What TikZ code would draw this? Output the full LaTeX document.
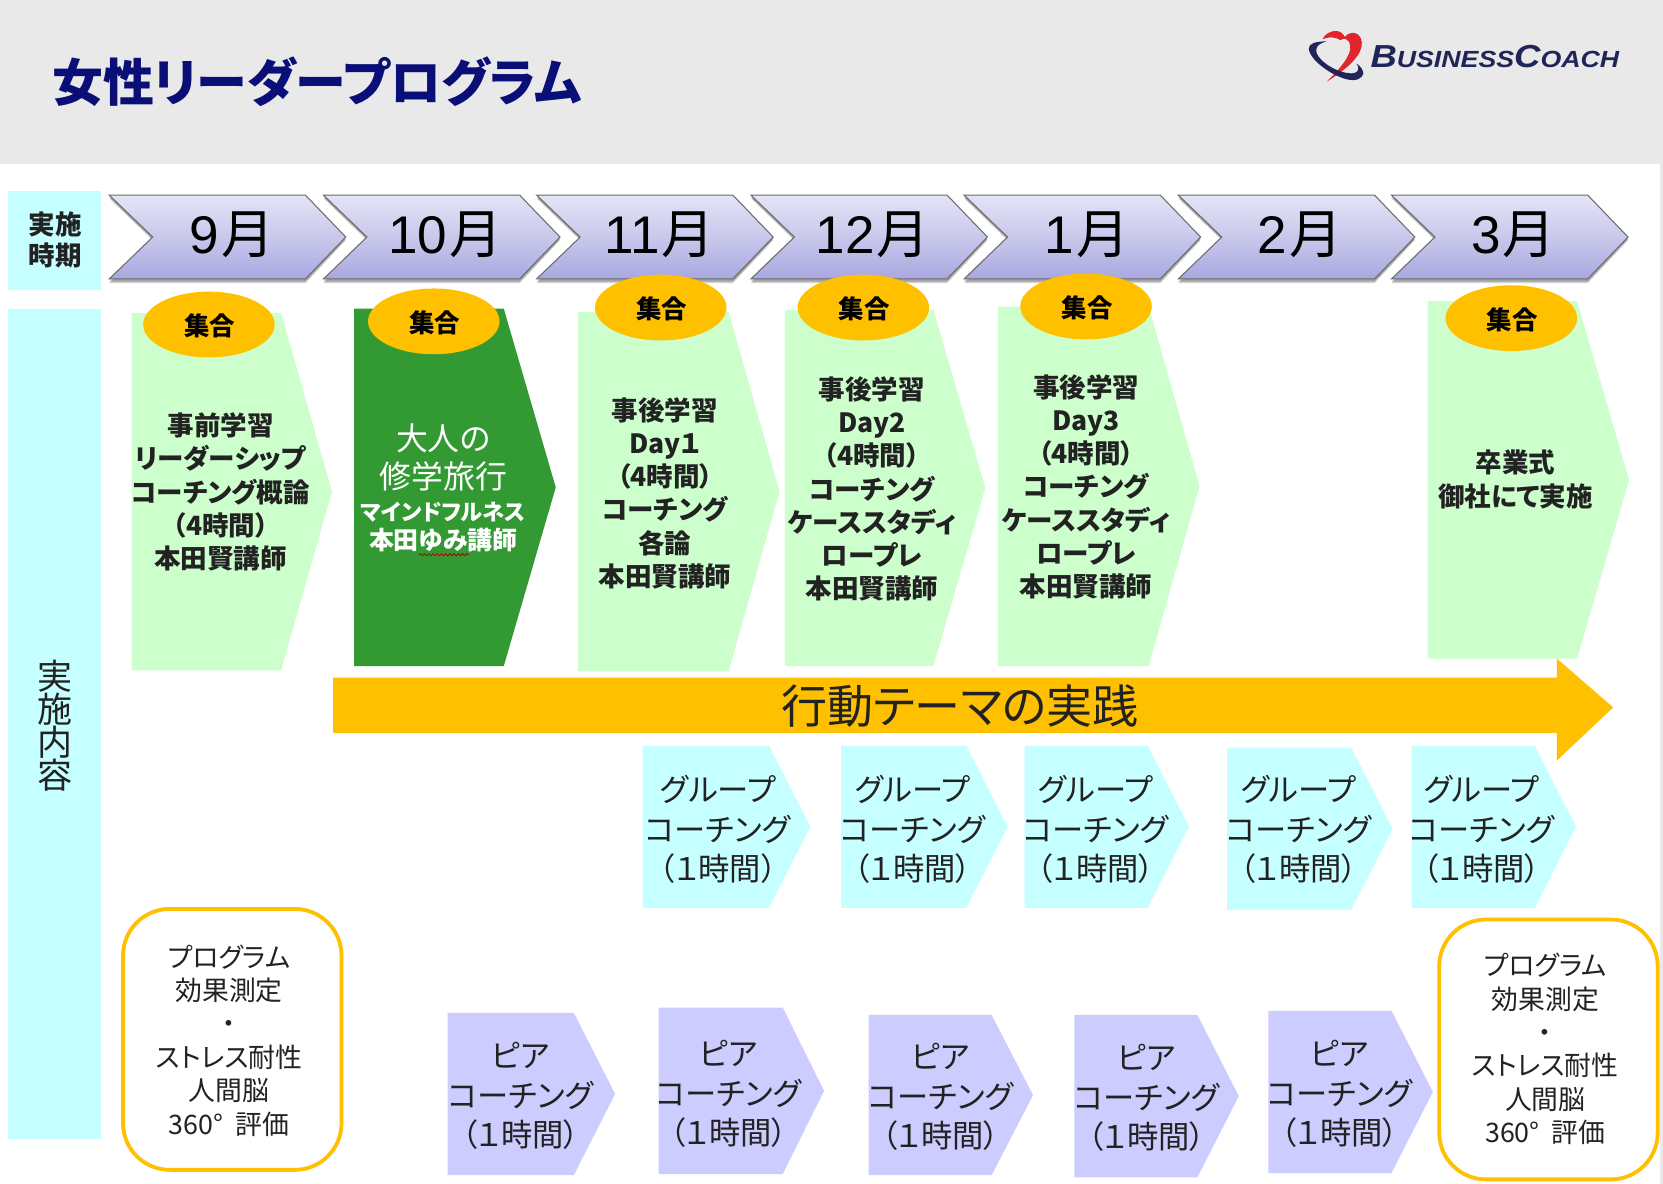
\documentclass[tikz,border=0pt]{standalone}
\usepackage{fontspec}
\usetikzlibrary{decorations.pathmorphing,shapes.geometric}
\setmainfont[RawFeature={+palt}]{Noto Sans CJK JP}
\newfontfamily\latf{Liberation Sans}
\definecolor{hdr}{HTML}{E9E9E9}
\definecolor{cyanb}{HTML}{C6FFFF}
\definecolor{navyt}{HTML}{0A0F78}
\definecolor{lgreen}{HTML}{CCFFCC}
\definecolor{dgreen}{HTML}{339933}
\definecolor{orng}{HTML}{FFC000}
\definecolor{lilac}{HTML}{CCCCFF}
\definecolor{logon}{HTML}{1F2558}
\definecolor{logor}{HTML}{E0262B}
\definecolor{txt}{HTML}{222222}
\definecolor{chevt}{HTML}{E4E4F6}
\definecolor{chevm}{HTML}{C8C8EC}
\definecolor{chevb}{HTML}{A8A8E0}
\tikzset{
  txtn/.style={inner sep=0pt,align=center,text=txt},
  blockt/.style={txtn,font=\fontsize{25}{31.4}\selectfont\bfseries},
  lightt/.style={txtn,font=\fontsize{29.5}{37.2}\selectfont},
  evalt/.style={txtn,font=\fontsize{25.3}{31.5}\selectfont},
  montht/.style={txtn,text=black,font=\fontsize{50}{50}\selectfont},
  gathert/.style={txtn,text=black,font=\fontsize{24}{28}\selectfont\bfseries},
  greenp/.style={fill=lgreen},
  darkp/.style={fill=dgreen},
  cyanp/.style={fill=cyanb},
  lilacp/.style={fill=lilac},
  gatherl/.style={fill=orng,ellipse,minimum width=124pt,minimum height=62pt,inner sep=0pt},
  evalbox/.style={draw=orng,line width=3.6pt,fill=white,rounded corners=44pt},
}
\newcommand{\pent}[6]{\fill[#1] (#2,#3)--(#6,#3)--(#4,{(#3+#5)/2})--(#6,#5)--(#2,#5)--cycle;}
\newcommand{\chev}[1]{%
  \fill[black,opacity=.18] ({#1},187)--({#1+185},187)--({#1+223},226.5)--({#1+185},267)--({#1},267)--({#1+41},226.5)--cycle;
  \fill[black,opacity=.22] ({#1},186)--({#1+185},186)--({#1+223},225.5)--({#1+185},265.5)--({#1},265.5)--({#1+41},225.5)--cycle;
  \draw[draw=gray!85!black,line width=1pt,top color=chevt,bottom color=chevb,middle color=chevm]
    ({#1},184)--({#1+185},184)--({#1+223},223.5)--({#1+185},263)--({#1},263)--({#1+41},223.5)--cycle;}
\begin{document}
\begin{tikzpicture}[x=1pt,y=-1pt]
\useasboundingbox (0,0) rectangle (1568,1116);
\fill[hdr] (0,0) rectangle (1568,1116);
\fill[white] (0,155) rectangle (1565,1116);
% title
\node[txtn,text=navyt,anchor=west,font=\fontsize{48}{54}\selectfont\bfseries] (title) at (49,77) {女性リーダープログラム};
% logo
\fill[logor] (1247,37) .. controls (1250,30) and (1260,27) .. (1265,31) .. controls (1267,33) and (1268,34) .. (1268,35) .. controls (1272,29) and (1283,29) .. (1284,40) .. controls (1285,52) and (1270,65) .. (1251,77) .. controls (1262,66) and (1275,52) .. (1273,43) .. controls (1272,36) and (1266,35) .. (1264,38) .. controls (1258,34) and (1252,35) .. (1247,37) -- cycle;
\fill[logon] (1251,39) .. controls (1240,39) and (1234,41) .. (1234,46) .. controls (1235,58) and (1262,76) .. (1276,75.5) .. controls (1283,75.5) and (1287,70) .. (1285,67) .. controls (1284,64) and (1281,61) .. (1279,60) .. controls (1283,66) and (1280,70) .. (1272,69) .. controls (1258,68) and (1240,55) .. (1241,47) .. controls (1241,43) and (1246,40) .. (1251,39) -- cycle;
\node[inner sep=0pt,anchor=west,text=logon,font=\latf\bfseries\itshape] (logo) at (1292,53) {\scalebox{1.146}[1]{\fontsize{30}{30}\selectfont B\fontsize{22}{22}\selectfont USINESS\fontsize{30}{30}\selectfont C\fontsize{22}{22}\selectfont OACH}};
% side bars
\fill[cyanb] (8,180) rectangle (95,273);
\fill[cyanb] (8,291) rectangle (95,1074);
\node[txtn,font=\fontsize{25}{29.5}\selectfont\bfseries] (period) at (52,226.5) {実施\\時期};
\node[txtn,font=\fontsize{33}{31}\selectfont] (content) at (52,684) {実\\施\\内\\容};
% months
\chev{103}\chev{305}\chev{506}\chev{708}\chev{909}\chev{1111}\chev{1312}
\node[montht] (m9) at (219,221) {\latf 9\kern2pt\rmfamily 月};
\node[montht] (m10) at (420,221) {\latf 10\kern2pt\rmfamily 月};
\node[montht] (m11) at (622,221) {\latf 11\kern2pt\rmfamily 月};
\node[montht] (m12) at (823,221) {\latf 12\kern2pt\rmfamily 月};
\node[montht] (m1) at (1025,221) {\latf 1\kern2pt\rmfamily 月};
\node[montht] (m2) at (1226,221) {\latf 2\kern2pt\rmfamily 月};
\node[montht] (m3) at (1427,221) {\latf 3\kern2pt\rmfamily 月};
% green pentagons
\pent{greenp}{124}{295}{313}{632}{265}
\pent{darkp}{334}{291}{524}{628}{475}
\pent{greenp}{545}{294}{735}{633}{687}
\pent{greenp}{740}{292}{929}{628}{880}
\pent{greenp}{941}{289}{1131}{628}{1083}
\pent{greenp}{1346}{284}{1536}{621}{1487}
% gather ellipses
\node[gatherl] (g1) at (197,306) {}; \node[gathert] (gt1) at (198,307.5) {集合};
\node[gatherl] (g2) at (409,303) {}; \node[gathert] (gt2) at (410,304.5) {集合};
\node[gatherl] (g3) at (623,290) {}; \node[gathert] (gt3) at (624,291.5) {集合};
\node[gatherl] (g4) at (814,290) {}; \node[gathert] (gt4) at (815,291.5) {集合};
\node[gatherl] (g5) at (1024,289) {}; \node[gathert] (gt5) at (1025,290.5) {集合};
\node[gatherl] (g6) at (1425,300) {}; \node[gathert] (gt6) at (1426,301.5) {集合};
% green text
\node[blockt] (t1) at (208,464) {事前学習\\リーダーシップ\\コーチング概論\\（4時間）\\本田賢講師};
\node[txtn,text=white,font=\fontsize{30}{36}\selectfont] (t2a) at (418,431) {大人の\\修学旅行};
\node[txtn,text=white,font=\fontsize{21}{28}\selectfont\bfseries] (t2b) at (418,497) {マインドフルネス\\\fontsize{23.5}{28}\selectfont 本田ゆみ講師};
\draw[red!70!black,line width=.8pt,decorate,decoration={snake,amplitude=1pt,segment length=4pt}] (395,523) -- (442,523);
\node[blockt] (t3) at (627,465) {事後学習\\Day１\\（4時間）\\コーチング\\各論\\本田賢講師};
\node[blockt] (t4) at (822,461) {事後学習\\Day2\\（4時間）\\コーチング\\ケーススタディ\\ロープレ\\本田賢講師};
\node[blockt] (t5) at (1024,459) {事後学習\\Day3\\（4時間）\\コーチング\\ケーススタディ\\ロープレ\\本田賢講師};
\node[blockt] (t6) at (1429,452) {卒業式\\御社にて実施};
% big arrow
\fill[orng] (314,639)--(1468,639)--(1468,621)--(1521,667)--(1468,717)--(1468,691)--(314,691)--cycle;
\node[txtn,font=\fontsize{43.4}{45}\selectfont] (act) at (905,666) {行動テーマの実践};
% group coaching
\pent{cyanp}{606}{703}{764}{856}{725}
\pent{cyanp}{793}{703}{950}{856}{911}
\pent{cyanp}{966}{703}{1121}{856}{1082}
\pent{cyanp}{1157}{705}{1313}{858}{1274}
\pent{cyanp}{1331}{703}{1486}{856}{1447}
\node[lightt] (c1) at (677,782) {グループ\\コーチング\\（１時間）};
\node[lightt] (c2) at (860.5,782) {グループ\\コーチング\\（１時間）};
\node[lightt] (c3) at (1033,782) {グループ\\コーチング\\（１時間）};
\node[lightt] (c4) at (1224.5,782) {グループ\\コーチング\\（１時間）};
\node[lightt] (c5) at (1397,782) {グループ\\コーチング\\（１時間）};
% peer coaching
\pent{lilacp}{422}{955}{580}{1108}{541}
\pent{lilacp}{621}{950}{777}{1107}{738}
\pent{lilacp}{819}{957}{974}{1108}{935}
\pent{lilacp}{1013}{957}{1168}{1110}{1129}
\pent{lilacp}{1196}{953}{1351}{1106}{1312}
\node[lightt] (p1) at (491,1033.5) {ピア\\コーチング\\（１時間）};
\node[lightt] (p2) at (687,1031.5) {ピア\\コーチング\\（１時間）};
\node[lightt] (p3) at (887,1034.5) {ピア\\コーチング\\（１時間）};
\node[lightt] (p4) at (1081,1035.5) {ピア\\コーチング\\（１時間）};
\node[lightt] (p5) at (1263,1031.5) {ピア\\コーチング\\（１時間）};
% evaluation boxes
\draw[evalbox] (116,857) rectangle (322,1103);
\draw[evalbox] (1357,867) rectangle (1563,1112);
\node[evalt] (e1) at (216,981) {プログラム\\効果測定\\・\\ストレス耐性\\人間脳\\360°\ \ 評価};
\node[evalt] (e2) at (1457,989) {プログラム\\効果測定\\・\\ストレス耐性\\人間脳\\360°\ \ 評価};
\end{tikzpicture}
\end{document}
